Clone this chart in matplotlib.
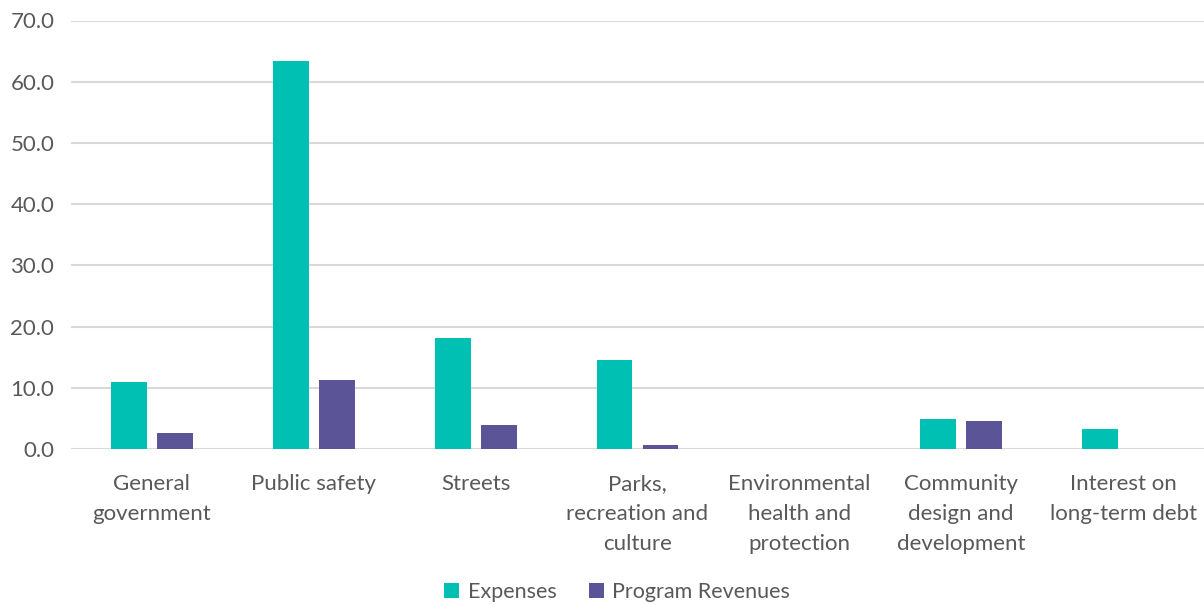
import matplotlib
matplotlib.use("Agg")
import matplotlib.pyplot as plt
import numpy as np

categories = ["General\ngovernment", "Public safety", "Streets",
              "Parks,\nrecreation and\nculture", "Environmental\nhealth and\nprotection",
              "Community\ndesign and\ndevelopment", "Interest on\nlong-term debt"]
expenses = [10.9, 63.4, 18.2, 14.6, 0.0, 4.9, 3.2]
program_revenues = [2.6, 11.2, 3.9, 0.7, 0.0, 4.5, 0.0]
yticks = [0, 10, 20, 30, 40, 50, 60, 70]

plt.rcParams['font.family'] = ['Lato', 'DejaVu Sans']
text_color = "#595959"

fig = plt.figure(figsize=(12.04, 6.04), dpi=100)
ax = fig.add_axes([71/1204, 155/604, 1 - 71/1204, (449-20.5)/604])

x = np.arange(len(categories))
w = 0.222
gap = 0.062
ax.bar(x - (w + gap)/2, expenses, width=w, color="#00BFB3", label="Expenses", zorder=3)
ax.bar(x + (w + gap)/2, program_revenues, width=w, color="#5B5496", label="Program Revenues", zorder=3)

ax.set_xlim(-0.5, len(categories) - 0.5)
ax.set_ylim(0, 70)
ax.set_yticks(yticks)
ax.set_yticklabels([f"{v:.1f}" for v in yticks])
ax.set_xticks(x)
ax.set_xticklabels(categories, linespacing=1.62)
ax.tick_params(axis='both', length=0, labelsize=16, colors=text_color)
ax.tick_params(axis='x', pad=18)
ax.tick_params(axis='y', pad=12)
for s in ax.spines.values():
    s.set_visible(False)
ax.grid(axis='y', color="#D9D9D9", linewidth=1.5, zorder=0)
ax.set_axisbelow(True)

leg = fig.legend(loc='center', bbox_to_anchor=(617/1204, 1 - 592/604), ncol=2, frameon=False,
                 fontsize=15.5, handlelength=0.7, handleheight=0.7, handletextpad=0.4, columnspacing=1.5)
for t in leg.get_texts():
    t.set_color(text_color)

fig.savefig("out.png", dpi=100)
